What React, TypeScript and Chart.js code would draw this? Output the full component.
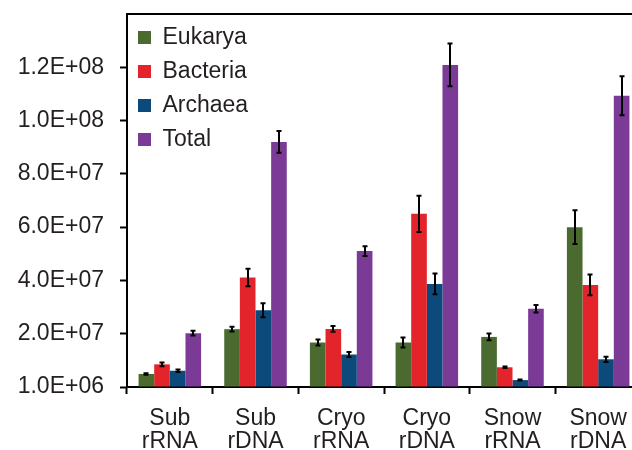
import React, { useEffect, useRef } from "react";
import { Chart, registerables } from "chart.js";

Chart.register(...registerables);

const categories = [["Sub", "rRNA"], ["Sub", "rDNA"], ["Cryo", "rRNA"], ["Cryo", "rDNA"], ["Snow", "rRNA"], ["Snow", "rDNA"]];
const seriesNames = ["Eukarya", "Bacteria", "Archaea", "Total"];
const seriesColors = ["#4a6a30", "#e3242b", "#0d4a7c", "#7b3a96"];

const eukarya = [4.9e6, 2.17e7, 1.67e7, 1.67e7, 1.88e7, 6.0e7];
const eukaryaErr = [0.3e6, 0.9e6, 1.1e6, 1.9e6, 1.25e6, 6.3e6];
const bacteria = [8.5e6, 4.11e7, 2.18e7, 6.5e7, 7.4e6, 3.83e7];
const bacteriaErr = [0.7e6, 3.3e6, 1.1e6, 6.8e6, 0.3e6, 3.9e6];
const archaea = [6.1e6, 2.88e7, 1.22e7, 3.87e7, 2.6e6, 1.04e7];
const archaeaErr = [0.5e6, 2.6e6, 0.9e6, 3.9e6, 0.2e6, 1.0e6];
const total = [2.02e7, 9.2e7, 5.1e7, 1.209e8, 2.94e7, 1.093e8];
const totalErr = [0.9e6, 4.1e6, 1.8e6, 8.0e6, 1.4e6, 7.3e6];

const yMin = 0;
const yMax = 1.4e8;
const yStep = 2e7;
const bottomTickLabel = "1.0E+06";

const seriesValues = [eukarya, bacteria, archaea, total];
const seriesErrors = [eukaryaErr, bacteriaErr, archaeaErr, totalErr];

function formatSci(v: number): string {
  if (v === 0) return bottomTickLabel;
  if (v >= yMax) return "";
  const [m, e] = v.toExponential(1).split("e");
  const exp = parseInt(e, 10);
  const sign = exp < 0 ? "-" : "+";
  const absE = Math.abs(exp).toString().padStart(2, "0");
  return `${m}E${sign}${absE}`;
}

const errorBarPlugin = {
  id: "errorBars",
  afterDatasetsDraw(chart: any) {
    const ctx = chart.ctx;
    const yScale = chart.scales.y;
    ctx.save();
    ctx.strokeStyle = "#000";
    ctx.lineWidth = 2;
    chart.data.datasets.forEach((ds: any, di: number) => {
      const meta = chart.getDatasetMeta(di);
      const errs = seriesErrors[di];
      meta.data.forEach((bar: any, i: number) => {
        const v = ds.data[i];
        const e = errs[i];
        const x = Math.round(bar.x);
        const yTop = yScale.getPixelForValue(v + e);
        const yBot = yScale.getPixelForValue(v - e);
        ctx.beginPath();
        ctx.moveTo(x, yTop);
        ctx.lineTo(x, yBot);
        ctx.moveTo(x - 2.5, yTop);
        ctx.lineTo(x + 2.5, yTop);
        ctx.moveTo(x - 2.5, yBot);
        ctx.lineTo(x + 2.5, yBot);
        ctx.stroke();
      });
    });
    // top frame line of the plot area
    const area = chart.chartArea;
    ctx.fillStyle = "#000";
    ctx.fillRect(Math.round(area.left) - 1, Math.round(area.top) - 1, Math.round(area.right - area.left) + 2, 2);
    ctx.restore();
  },
};

export default function App() {
  const canvasRef = useRef<HTMLCanvasElement | null>(null);

  useEffect(() => {
    if (!canvasRef.current) return;
    const textColor = "#231f20";
    const family = "Liberation Sans, Arial, sans-serif";
    const isTop = (c: any) => c.tick && c.tick.value >= yMax;
    const chart = new Chart(canvasRef.current, {
      type: "bar",
      data: {
        labels: categories,
        datasets: seriesNames.map((name, i) => ({
          label: name,
          data: seriesValues[i],
          backgroundColor: seriesColors[i],
          borderWidth: 0,
          barPercentage: 1.0,
          categoryPercentage: 0.73,
        })),
      },
      options: {
        animation: false,
        responsive: false,
        maintainAspectRatio: false,
        layout: { padding: { left: 0, top: 14, right: 19, bottom: 0 } },
        plugins: {
          legend: {
            position: "chartArea" as any,
            align: "start",
            title: {
              display: true,
              text: " ",
              padding: 0,
              font: { size: 15, lineHeight: 1 },
            },
            labels: {
              boxWidth: 13,
              boxHeight: 13,
              padding: 11,
              color: textColor,
              font: { family, size: 23 },
            },
          },
          tooltip: { enabled: false },
        },
        scales: {
          x: {
            afterFit: (scale: any) => {
              scale.height = 63;
              scale.paddingLeft = 0;
              scale.paddingRight = 0;
            },
            grid: {
              display: true,
              drawOnChartArea: false,
              offset: true,
              tickLength: 7,
              tickColor: "#000",
              tickWidth: 2,
            },
            border: { display: true, color: "#000", width: 2 },
            ticks: {
              color: textColor,
              padding: 13,
              maxRotation: 0,
              font: { family, size: 23, lineHeight: 1.0 },
            },
          },
          y: {
            min: yMin,
            max: yMax,
            afterFit: (scale: any) => {
              scale.width = 127;
              scale.paddingTop = 0;
              scale.paddingBottom = 0;
            },
            grid: {
              display: true,
              drawOnChartArea: false,
              tickLength: 7,
              tickWidth: 2,
              tickColor: (c: any) => (isTop(c) ? "rgba(0,0,0,0)" : "#000"),
            },
            border: { display: true, color: "#000", width: 2 },
            ticks: {
              stepSize: yStep,
              color: textColor,
              padding: 16,
              font: { family, size: 23 },
              callback: (v: any) => formatSci(Number(v)),
            },
          },
        },
      } as any,
      plugins: [errorBarPlugin],
    });
    return () => chart.destroy();
  }, []);

  return (
    <div style={{ position: "absolute", left: 0, top: 0, width: 632, height: 450, overflow: "hidden", background: "#fff" }}>
      <canvas ref={canvasRef} width={660} height={450} style={{ display: "block", width: 660, height: 450 }} />
    </div>
  );
}
